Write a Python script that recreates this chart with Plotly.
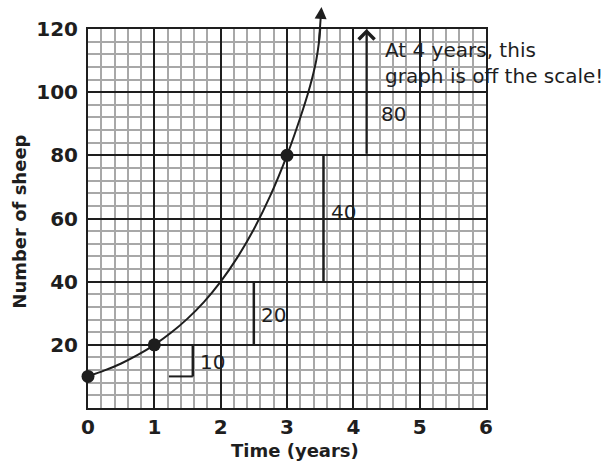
import plotly.graph_objects as go

# Sheep population over time (doubles every year)
curve_t = [0, 0.25, 0.5, 0.75, 1, 1.25, 1.5, 1.75, 2, 2.25, 2.5, 2.75, 3, 3.15, 3.31,
           3.38, 3.44, 3.48, 3.505]
curve_v = [10, 11.9, 14.1, 16.8, 20, 23.8, 28.3, 33.6, 40, 47.6, 56.6, 67.3, 80, 88.8, 99.2,
           104.5, 110, 115.5, 121]
arrow_tip = (3.52, 127)

point_t = [0, 1, 3]
point_v = [10, 20, 80]

# Yearly increases shown as step brackets
step_x = [1.58, 2.5, 3.55, 4.2]
step_start = [10, 20, 40, 80]
step_increase = [10, 20, 40, 80]

x_ticks = [0, 1, 2, 3, 4, 5, 6]
y_ticks = [20, 40, 60, 80, 100, 120]

Y_MAX = 120
INK = "#1e1e1e"
MINOR = "#a8a8a8"
FONT = "DejaVu Sans"

fig = go.Figure()

fig.add_trace(go.Scatter(
    x=curve_t, y=curve_v, mode="lines",
    line=dict(color=INK, width=2, shape="spline", smoothing=1.0),
    cliponaxis=False, hoverinfo="skip", showlegend=False,
))
fig.add_trace(go.Scatter(
    x=point_t, y=point_v, mode="markers",
    marker=dict(color=INK, size=13),
    cliponaxis=False, showlegend=False,
))

# the curve runs on past the top of the grid and ends in an arrowhead
fig.add_annotation(
    x=arrow_tip[0], y=arrow_tip[1], ax=curve_t[-2], ay=curve_v[-2],
    xref="x", yref="y", axref="x", ayref="y", text="",
    showarrow=True, arrowhead=2, arrowsize=1.2, arrowwidth=2, arrowcolor=INK,
)

shapes = []
# small bottom bar of the first bracket
shapes.append(dict(type="line", xref="x", yref="y", x0=1.22, x1=step_x[0],
                   y0=step_start[0], y1=step_start[0], line=dict(color=INK, width=2)))
label_y = [14.5, 29.5, 62, 93]
label_shift = [5, 5, 6, 12]
for i, (sx, lo, inc) in enumerate(zip(step_x, step_start, step_increase)):
    hi = lo + inc
    if hi <= Y_MAX:
        shapes.append(dict(type="line", xref="x", yref="y", x0=sx, x1=sx,
                           y0=lo, y1=hi, line=dict(color=INK, width=2.5)))
    else:
        fig.add_annotation(
            x=sx, y=Y_MAX, ax=sx, ay=lo, xref="x", yref="y", axref="x", ayref="y",
            text="", showarrow=True, arrowhead=4, arrowsize=1.4, arrowwidth=2.2,
            arrowcolor=INK,
        )
    fig.add_annotation(
        x=sx, y=label_y[i], xref="x", yref="y", text=str(inc), showarrow=False,
        xanchor="left", yanchor="middle", xshift=label_shift[i],
        font=dict(family=FONT, size=20, color=INK),
    )

fig.add_annotation(
    x=4.44, y=109.2, xref="x", yref="y",
    text="At 4 years, this<br>graph is off the scale!",
    showarrow=False, xanchor="left", yanchor="middle", align="left",
    font=dict(family=FONT, size=20, color=INK),
)

# axis titles
fig.add_annotation(
    x=0.521, y=-0.111, xref="paper", yref="paper", text="Time (years)",
    showarrow=False, xanchor="center", yanchor="middle",
    font=dict(family=FONT, size=18, color=INK, weight="bold"),
)
fig.add_annotation(
    x=-0.173, y=0.492, xref="paper", yref="paper", text="Number of sheep",
    showarrow=False, textangle=-90, xanchor="center", yanchor="middle",
    font=dict(family=FONT, size=18, color=INK, weight="bold"),
)

axis_common = dict(
    showline=True, mirror=True, linecolor=INK, linewidth=2,
    showgrid=True, gridcolor=INK, gridwidth=2, zeroline=False,
    ticks="", tickfont=dict(family=FONT, size=20, color=INK, weight="bold"),
)
fig.update_xaxes(
    range=[0, 6], tickvals=x_ticks, ticktext=[str(v) for v in x_ticks],
    minor=dict(dtick=0.2, tick0=0, showgrid=True, gridcolor=MINOR, gridwidth=2),
    **axis_common,
)
fig.update_yaxes(
    range=[0, Y_MAX], tickvals=y_ticks, ticktext=[str(v) for v in y_ticks],
    minor=dict(dtick=4, tick0=0, showgrid=True, gridcolor=MINOR, gridwidth=2),
    ticklabelstandoff=4,
    **axis_common,
)

fig.update_layout(
    width=614, height=462,
    margin=dict(l=88, r=128, t=29, b=54),
    paper_bgcolor="white", plot_bgcolor="white",
    shapes=shapes, showlegend=False,
)

fig.write_html("out.html")
